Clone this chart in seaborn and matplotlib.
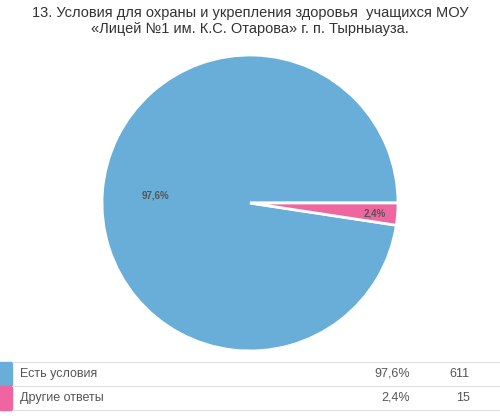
import matplotlib
matplotlib.use("Agg")
import matplotlib.pyplot as plt
import seaborn as sns

labels = ["Есть условия", "Другие ответы"]
percents = [97.6, 2.4]
counts = [611, 15]
pct_labels = ["97,6%", "2,4%"]
colors = ["#68aed9", "#ef65a0"]

sns.set_style("white")
plt.rcParams['font.family'] = ['Arial', 'Liberation Sans', 'DejaVu Sans']

fig = plt.figure(figsize=(5, 4.2), dpi=100)
fig.text(0.5, 0.985, "13. Условия для охраны и укрепления здоровья  учащихся МОУ\n«Лицей №1 им. К.С. Отарова» г. п. Тырныауза.",
         ha="center", va="top", fontsize=10.5, color="#333333", linespacing=1.2)

ax = fig.add_axes([102/500, 69/420, 296/500, 296/420])
wedges, texts, autotexts = ax.pie(percents, colors=colors, startangle=0, counterclock=True,
                                  autopct=lambda p: "", pctdistance=0.64,
                                  wedgeprops=dict(edgecolor="white", linewidth=2))
for at, t in zip(autotexts, pct_labels):
    at.set_text(t)
    at.set_fontsize(7)
    at.set_fontweight("bold")
    at.set_color("#555555")
x, y = autotexts[1].get_position()
autotexts[1].set_position((x * 0.845 / 0.64, y * 0.845 / 0.64 - 0.01))
ax.set_xlim(-1, 1); ax.set_ylim(-1, 1); ax.set_aspect("equal")

# legend table
lax = fig.add_axes([0, 0, 1, 1], zorder=-1)
lax.set_xlim(0, 500); lax.set_ylim(420, 0); lax.axis("off")
rows = [(362, 386), (386, 410)]
for (y0, y1), lab, c, p, n in zip(rows, labels, colors, pct_labels, counts):
    lax.add_patch(plt.Rectangle((0, y0), 12, y1 - y0, color=c))
    lax.text(20, (y0 + y1) / 2, lab, va="center", fontsize=9, color="#555555")
    lax.text(410, (y0 + y1) / 2, p, va="center", ha="right", fontsize=9, color="#555555")
    lax.text(470, (y0 + y1) / 2, str(n), va="center", ha="right", fontsize=9, color="#555555")
for yy in (362, 386, 410):
    lax.plot([12, 500], [yy, yy], color="#dddddd", lw=0.8)

fig.savefig("out.png", dpi=100)
